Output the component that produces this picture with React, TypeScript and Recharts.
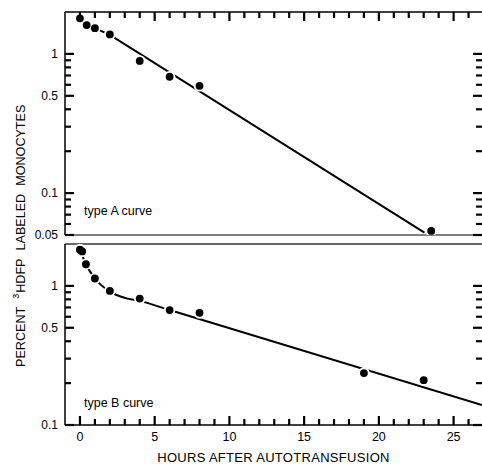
import React from 'react';
import { ComposedChart, Line, Scatter, XAxis, YAxis, ReferenceLine } from 'recharts';

// type A curve (top panel)
const hoursA = [0, 0.45, 1, 2, 4, 6, 8, 23.5];
const percentA = [1.8, 1.61, 1.53, 1.38, 0.89, 0.685, 0.59, 0.0535];
const fitHoursA = [0.45, 1, 2, 23.05];
const fitPercentA = [1.61, 1.53, 1.37, 0.052];

// type B curve (bottom panel)
const hoursB = [0, 0.15, 0.4, 1, 2, 4, 6, 8, 19, 23];
const percentB = [1.82, 1.77, 1.43, 1.13, 0.92, 0.81, 0.67, 0.64, 0.236, 0.21];
const fitHoursB = [0, 0.4, 1, 2, 3, 4, 6, 26.9];
const fitPercentB = [1.82, 1.43, 1.13, 0.91, 0.82, 0.78, 0.67, 0.139];

const hourTicks = [0, 1, 2, 3, 4, 5, 6, 7, 8, 9, 10, 11, 12, 13, 14, 15, 16, 17, 18, 19, 20, 21, 22, 23, 24, 25, 26];
const logTicksA = [0.05, 0.06, 0.07, 0.08, 0.09, 0.1, 0.2, 0.3, 0.4, 0.5, 0.6, 0.7, 0.8, 0.9, 1];
const logTicksB = [0.1, 0.2, 0.3, 0.4, 0.5, 0.6, 0.7, 0.8, 0.9, 1];
const labeledLogTicks = [0.05, 0.1, 0.5, 1];

const toPoints = (hs: number[], ps: number[]) => hs.map((h, i) => ({ h, p: ps[i] }));
const pointsA = toPoints(hoursA, percentA);
const fitA = toPoints(fitHoursA, fitPercentA);
const pointsB = toPoints(hoursB, percentB);
const fitB = toPoints(fitHoursB, fitPercentB);

const FONT = '"Liberation Sans", Arial, sans-serif';
const W = 482;
const AXIS_W = 65;
const INK = '#000';

function LogTick(props: any) {
  const { x, y, payload } = props;
  const major = labeledLogTicks.includes(payload.value);
  const len = major ? 9 : 6;
  return (
    <g>
      <line x1={x} y1={y} x2={x + len} y2={y} stroke="#000" strokeWidth={2.2} />
      <line x1={W} y1={y} x2={W - len} y2={y} stroke="#000" strokeWidth={2.2} />
      {major && (
        <text x={x - 7} y={y + 4.3} textAnchor="end" fontSize={12} fontFamily={FONT} fill={INK}>
          {String(payload.value)}
        </text>
      )}
    </g>
  );
}

function BottomHourTick(props: any) {
  const { x, y, payload } = props;
  const major = payload.value % 5 === 0;
  const len = major ? 9 : 6;
  return (
    <g>
      <line x1={x} y1={y} x2={x} y2={y - len} stroke="#000" strokeWidth={2.2} />
      {major && (
        <text x={x} y={y + 16} textAnchor="middle" fontSize={12.5} fontFamily={FONT} fill={INK}>
          {payload.value}
        </text>
      )}
    </g>
  );
}

function TopHourTick(props: any) {
  const { x, y, payload } = props;
  const len = payload.value % 5 === 0 ? 9 : 6;
  return (
    <g>
      <line x1={x} y1={y} x2={x} y2={y + len} stroke="#000" strokeWidth={2.2} />
    </g>
  );
}

// white halo under each dot leaves the small gaps in the drawn line
const Halo = (props: any) => <circle cx={props.cx} cy={props.cy} r={5.8} fill="#fff" />;
const Dot = (props: any) => <circle cx={props.cx} cy={props.cy} r={3.9} fill={INK} />;

export default function App() {
  return (
    <div style={{ position: 'absolute', left: 0, top: 0, width: W, height: 464, background: '#fff' }}>
      <div style={{ position: 'absolute', left: 0, top: 0 }}>
        <ComposedChart width={W} height={244} margin={{ top: 0, right: 0, bottom: 9, left: 0 }}>
          <XAxis
            orientation="top"
            type="number"
            dataKey="h"
            domain={[-1, 26.9]}
            allowDataOverflow
            ticks={hourTicks}
            interval={0}
            height={12}
            tickSize={0}
            tickMargin={0}
            tickLine={false}
            tick={<TopHourTick />}
            axisLine={{ stroke: INK, strokeWidth: 1.5 }}
          />
          <YAxis
            type="number"
            dataKey="p"
            scale="log"
            domain={[0.05, 2]}
            allowDataOverflow
            ticks={logTicksA}
            interval={0}
            width={AXIS_W}
            tickSize={0}
            tickMargin={0}
            tickLine={false}
            tick={<LogTick />}
            axisLine={{ stroke: INK, strokeWidth: 1.5 }}
          />
          <ReferenceLine y={0.05} stroke="#555" strokeWidth={1.5} />
          <Line data={fitA} dataKey="p" type="linear" stroke={INK} strokeWidth={2} dot={false} isAnimationActive={false} />
          <Scatter data={pointsA} dataKey="p" shape={<Halo />} isAnimationActive={false} />
          <Scatter data={pointsA} dataKey="p" shape={<Dot />} isAnimationActive={false} />
        </ComposedChart>
      </div>
      <div style={{ position: 'absolute', left: 0, top: 232 }}>
        <ComposedChart width={W} height={232} margin={{ top: 12, right: 0, bottom: 0, left: 0 }}>
          <XAxis
            type="number"
            dataKey="h"
            domain={[-1, 26.9]}
            allowDataOverflow
            ticks={hourTicks}
            interval={0}
            height={39}
            tickSize={0}
            tickMargin={0}
            tickLine={false}
            tick={<BottomHourTick />}
            axisLine={{ stroke: INK, strokeWidth: 1.5 }}
            label={{
              value: 'HOURS AFTER AUTOTRANSFUSION',
              position: 'insideBottom',
              offset: 2,
              fontSize: 13,
              fontFamily: FONT,
              fill: INK,
              letterSpacing: 0.3,
            }}
          />
          <YAxis
            type="number"
            dataKey="p"
            scale="log"
            domain={[0.1, 2]}
            allowDataOverflow
            ticks={logTicksB}
            interval={0}
            width={AXIS_W}
            tickSize={0}
            tickMargin={0}
            tickLine={false}
            tick={<LogTick />}
            axisLine={{ stroke: INK, strokeWidth: 1.5 }}
          />
          <ReferenceLine y={2} stroke="#333" strokeWidth={1.5} />
          <Line data={fitB} dataKey="p" type="monotone" stroke={INK} strokeWidth={2} dot={false} isAnimationActive={false} />
          <Scatter data={pointsB} dataKey="p" shape={<Halo />} isAnimationActive={false} />
          <Scatter data={pointsB} dataKey="p" shape={<Dot />} isAnimationActive={false} />
        </ComposedChart>
      </div>
      <svg
        width={W}
        height={464}
        style={{ position: 'absolute', left: 0, top: 0, pointerEvents: 'none' }}
        fontFamily={FONT}
        fill={INK}
      >
        <text x={84} y={215} fontSize={12.5}>type A curve</text>
        <text x={84} y={407} fontSize={12.5}>type B curve</text>
        <text transform="translate(25, 367) rotate(-90)" textAnchor="start" fontSize={12.6}>
          <tspan>PERCENT</tspan>
          <tspan dx={8} dy={-6} fontSize={9}>3</tspan>
          <tspan dx={1} dy={6}>HDFP</tspan>
          <tspan dx={8}>LABELED</tspan>
          <tspan dx={8}>MONOCYTES</tspan>
        </text>
      </svg>
    </div>
  );
}
